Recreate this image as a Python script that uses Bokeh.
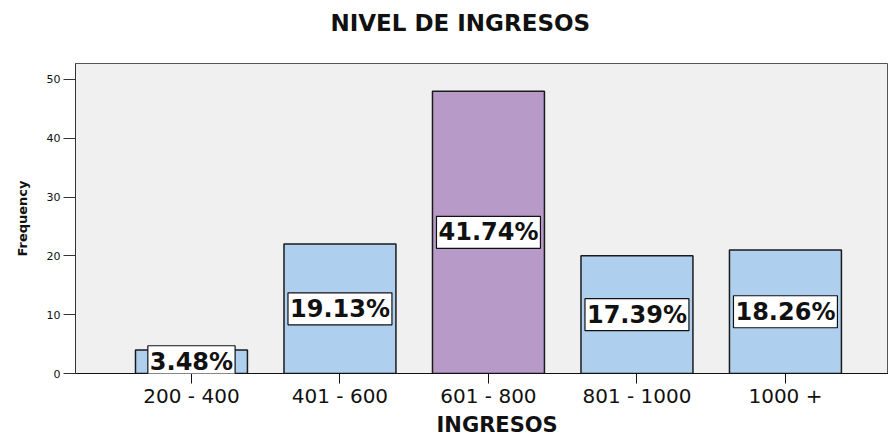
from bokeh.plotting import figure
from bokeh.models import Range1d, FixedTicker, Label, Title, ColumnDataSource
from bokeh.embed import file_html
from bokeh.resources import INLINE

title_text = "NIVEL DE INGRESOS"
x_title = "INGRESOS"
y_title = "Frequency"
categories = ["200 - 400", "401 - 600", "601 - 800", "801 - 1000", "1000 +"]
frequencies = [4, 22, 48, 20, 21]
pct_labels = ["3.48%", "19.13%", "41.74%", "17.39%", "18.26%"]
bar_colors = ["#aecfee", "#aecfee", "#b89ac9", "#aecfee", "#aecfee"]
y_ticks = [0, 10, 20, 30, 40, 50]

xpos = list(range(len(categories)))

p = figure(width=888, height=436, output_backend="svg", toolbar_location=None,
           title=None,
           x_range=Range1d(-0.781, 4.694), y_range=Range1d(0, 52.7),
           min_border_left=75, min_border_right=0, min_border_top=63,
           min_border_bottom=63)

# spacer between frame and title, then the title itself
p.add_layout(Title(text=" ", standoff=0, text_font="DejaVu Sans",
                   text_font_size="18px"), "above")
p.add_layout(Title(text=title_text, align="left", offset=255, standoff=10,
                   text_font="DejaVu Sans", text_font_size="23px",
                   text_font_style="bold", text_color="#111111"), "above")

p.background_fill_color = "#f0f0f0"
p.border_fill_color = "white"
p.outline_line_color = "#555555"
p.outline_line_width = 1
p.xgrid.grid_line_color = None
p.ygrid.grid_line_color = None

src = ColumnDataSource(dict(x=xpos, top=frequencies, color=bar_colors))
p.vbar(x="x", top="top", bottom=0, width=0.754, fill_color="color",
       line_color="#1a1a1a", line_width=1.5, source=src)

for xi, f, t in zip(xpos, frequencies, pct_labels):
    p.add_layout(Label(x=xi, y=f / 2, text=t, text_align="center",
                       text_baseline="middle", text_font="DejaVu Sans",
                       text_font_size="24px", text_font_style="bold",
                       text_color="#111111", background_fill_color="white",
                       border_line_color="#111111", border_line_width=1.2,
                       padding=2))

xa = p.xaxis[0]
xa.ticker = FixedTicker(ticks=xpos)
xa.major_label_overrides = {i: c for i, c in zip(xpos, categories)}
xa.axis_line_color = "#111111"
xa.major_tick_line_color = "#111111"
xa.major_tick_out = 10
xa.major_tick_in = 0
xa.minor_tick_line_color = None
xa.major_label_text_font = "DejaVu Sans"
xa.major_label_text_font_size = "20px"
xa.major_label_text_color = "#111111"
xa.major_label_standoff = 0

ya = p.yaxis[0]
ya.ticker = FixedTicker(ticks=y_ticks)
ya.axis_line_color = "#333333"
ya.major_tick_line_color = "#333333"
ya.major_tick_out = 12
ya.major_tick_in = 0
ya.minor_tick_line_color = None
ya.major_label_text_font = "DejaVu Sans"
ya.major_label_text_font_size = "11px"
ya.major_label_text_color = "#111111"
ya.major_label_standoff = 3
ya.axis_label = y_title
ya.axis_label_text_font = "DejaVu Sans"
ya.axis_label_text_font_size = "13px"
ya.axis_label_text_font_style = "bold"
ya.axis_label_text_color = "#111111"
ya.axis_label_standoff = 14

p.add_layout(Title(text=x_title, align="left", offset=361, standoff=0,
                   text_font="DejaVu Sans", text_font_size="21px",
                   text_font_style="bold", text_color="#111111"), "below")

open("out.html", "w").write(file_html(p, INLINE))
